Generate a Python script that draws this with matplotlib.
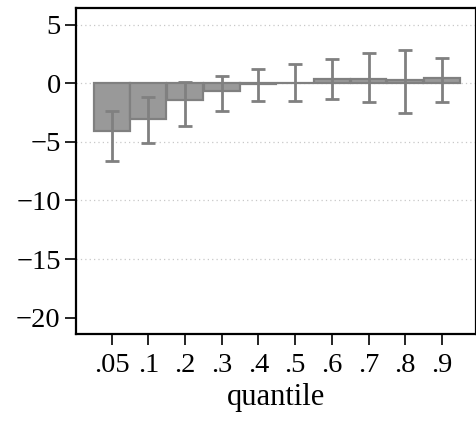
import numpy as np
import matplotlib.pyplot as plt

plt.rcParams['font.family'] = ['Liberation Serif', 'DejaVu Serif']

# Quantile effects with confidence bounds
quantiles = ['.05', '.1', '.2', '.3', '.4', '.5', '.6', '.7', '.8', '.9']
coef = [-4.06, -3.04, -1.45, -0.68, -0.05, 0.05, 0.33, 0.35, 0.28, 0.46]
ci_low = [-6.64, -5.08, -3.66, -2.39, -1.56, -1.53, -1.33, -1.6, -2.55, -1.6]
ci_high = [-2.36, -1.22, 0.08, 0.62, 1.17, 1.6, 2.1, 2.6, 2.87, 2.19]
ytick_vals = [5, 0, -5, -10, -15, -20]

x = np.arange(1, len(quantiles) + 1)
coef = np.array(coef)
lo = coef - np.array(ci_low)
hi = np.array(ci_high) - coef

fig = plt.figure(figsize=(4.77, 4.22), dpi=100)
ax = fig.add_axes([0.1593, 0.2085, 0.998 - 0.1593, 0.982 - 0.2085])

ax.bar(x, coef, width=0.98, color='#999999', edgecolor='#808080',
       linewidth=1.6, zorder=2)
ax.errorbar(x, coef, yerr=[lo, hi], fmt='none', ecolor='#808080',
            elinewidth=2, capsize=4.7, capthick=2, zorder=3)

ax.set_xlim(0.03, 10.93)
ax.set_ylim(-21.4, 6.45)
ax.set_yticks(ytick_vals)
ax.set_yticklabels([str(v).replace('-', '\u2212') for v in ytick_vals])
ax.set_xticks(x)
ax.set_xticklabels(quantiles)

# dotted horizontal grid (none on the bottom tick)
for yv in ytick_vals[:-1]:
    ax.axhline(yv, color='#c8c8c8', linestyle=(0, (1, 2.5)), linewidth=0.9,
               zorder=1)

for s in ax.spines.values():
    s.set_linewidth(1.6)
ax.tick_params(axis='both', length=8, width=1.2, labelsize=20.5)
ax.tick_params(axis='x', pad=5.5)
ax.tick_params(axis='y', pad=3)
ax.set_xlabel('quantile', fontsize=22, labelpad=4)

fig.savefig('out.png', dpi=100)
